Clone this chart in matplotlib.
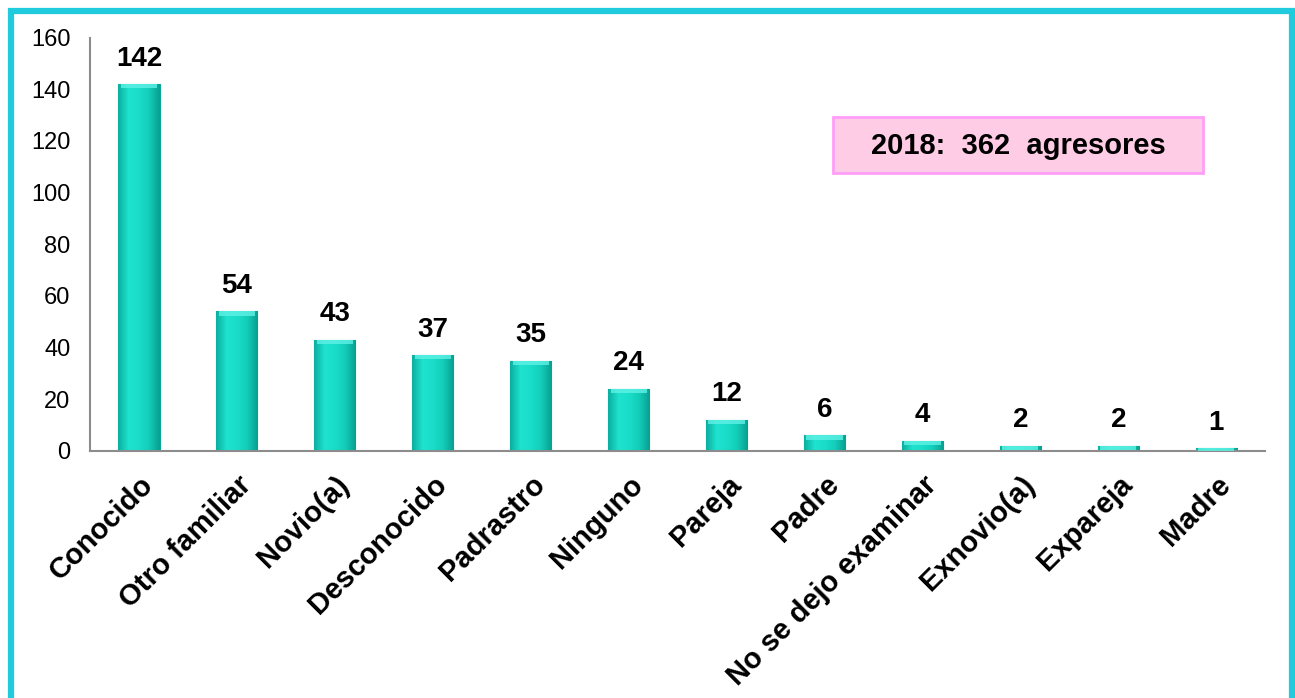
import numpy as np
import matplotlib
matplotlib.use("Agg")
import matplotlib.pyplot as plt
from matplotlib.colors import LinearSegmentedColormap
from matplotlib.patches import Rectangle

plt.rcParams["font.family"] = ["Liberation Sans", "DejaVu Sans"]

categories = [
    "Conocido", "Otro familiar", "Novio(a)", "Desconocido", "Padrastro",
    "Ninguno", "Pareja", "Padre", "No se dejo examinar", "Exnovio(a)",
    "Expareja", "Madre",
]
values = [142, 54, 43, 37, 35, 24, 12, 6, 4, 2, 2, 1]
y_ticks = [0, 20, 40, 60, 80, 100, 120, 140, 160]
note_text = "2018:  362  agresores"

fig = plt.figure(figsize=(12.95, 6.98), dpi=100)
ax = fig.add_axes([0.0695, 0.354, 0.9075, 0.592])

x = np.arange(len(categories))
bars = ax.bar(x, values, width=0.42, color="#14D6C3", edgecolor="#0BA797",
              linewidth=0.8, zorder=2)

# cylinder-like shading across each bar
shade = LinearSegmentedColormap.from_list(
    "shade", ["#0BAF9F", "#1EE3CF", "#1ADDC9", "#12CDB9", "#0A9F90"])
grad = np.linspace(0, 1, 64).reshape(1, -1)
for b in bars:
    bx, by = b.get_x(), b.get_y()
    bw, bh = b.get_width(), b.get_height()
    im = ax.imshow(grad, cmap=shade, aspect="auto", zorder=2.5,
                   extent=(bx, bx + bw, by, by + bh))
    im.set_clip_path(b)
    # light bevel on top
    cap = min(bh, 1.6)
    ax.add_patch(Rectangle((bx + bw * 0.06, by + bh - cap), bw * 0.88, cap,
                           facecolor="#5FF2E6", edgecolor="none", zorder=3,
                           alpha=0.8))

for xi, v in zip(x, values):
    ax.annotate(str(v), (xi, v), xytext=(0, 9), textcoords="offset points",
                ha="center", va="bottom", fontsize=20, fontweight="bold",
                color="black")

ax.set_xlim(-0.5, len(categories) - 0.5)
ax.set_ylim(0, 160)
ax.set_yticks(y_ticks)
ax.set_yticklabels([str(t) for t in y_ticks], fontsize=17)
ax.set_xticks(x)
ax.set_xticklabels(categories, rotation=45, ha="right", rotation_mode="anchor",
                   fontsize=21, fontweight="bold")
ax.tick_params(axis="both", length=0)
ax.tick_params(axis="x", pad=14)
ax.tick_params(axis="y", pad=14)

for side in ["top", "right"]:
    ax.spines[side].set_visible(False)
for side in ["left", "bottom"]:
    ax.spines[side].set_color("#8C8C8C")
    ax.spines[side].set_linewidth(1.5)

# note box
fig.patches.append(Rectangle((833 / 1295, 1 - 173 / 698), 370 / 1295, 56 / 698,
                             transform=fig.transFigure, facecolor="#FFCCE6",
                             edgecolor="#FF9EF8", linewidth=2, zorder=5))
fig.text(1018 / 1295, 1 - 146 / 698, note_text, ha="center", va="center",
         fontsize=21, fontweight="bold", zorder=6)

# outer frame
fig.patches.append(Rectangle((11 / 1295, -0.05), 1281 / 1295, 1.05 - 11 / 698,
                             transform=fig.transFigure, facecolor="none",
                             edgecolor="#1FCBDD", linewidth=4.5, zorder=10))

fig.savefig("out.png", dpi=100)
